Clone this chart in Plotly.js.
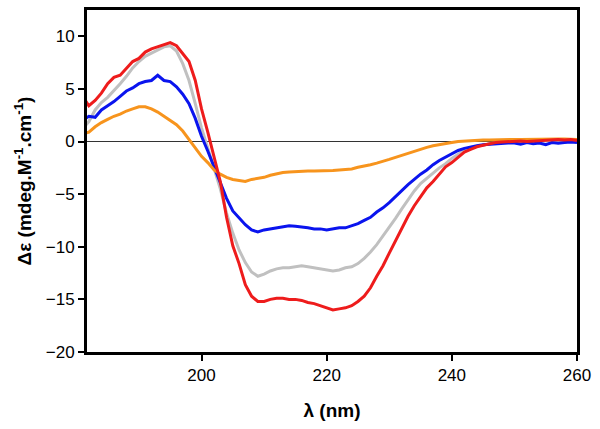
<!DOCTYPE html>
<html><head><meta charset="utf-8">
<script src="https://cdn.plot.ly/plotly-3.0.1.min.js"></script>
<style>html,body{margin:0;padding:0;background:#fff}#chart{width:600px;height:429px}</style>
</head><body><div id="chart"></div>
<script>
const wavelength = [];
for (let w = 181; w <= 260; w++) wavelength.push(w);

const redSeries = [4.3,3.4,3.9,4.6,5.5,6.1,6.3,7.0,7.6,7.9,8.5,8.8,9.0,9.2,9.4,9.1,8.4,7.6,5.8,3.1,
 0.9,-1.5,-3.8,-7.2,-9.9,-11.6,-13.6,-14.7,-15.2,-15.2,-15.0,-14.9,-14.9,-15.0,-15.0,-15.1,-15.3,-15.4,-15.6,-15.8,
 -16.0,-15.9,-15.8,-15.6,-15.2,-14.7,-13.9,-12.8,-11.8,-10.6,-9.4,-8.3,-7.1,-6.1,-5.2,-4.4,-3.8,-3.1,-2.4,-2.0,
 -1.5,-1.0,-0.75,-0.5,-0.35,-0.2,-0.1,-0.05,0.0,0.0,0.05,0.0,0.05,0.1,0.1,0.15,0.2,0.15,0.2,0.1];

const graySeries = [1.2,1.9,3.0,3.7,4.2,4.8,5.5,6.2,7.0,7.6,8.1,8.4,8.7,9.0,9.1,8.6,7.4,5.8,3.6,1.3,
 -0.6,-2.6,-4.5,-6.8,-8.7,-10.3,-11.5,-12.4,-12.8,-12.6,-12.3,-12.1,-12.0,-12.0,-11.9,-11.8,-11.9,-12.0,-12.1,-12.2,
 -12.3,-12.2,-12.0,-11.9,-11.6,-11.1,-10.5,-9.8,-9.0,-8.2,-7.3,-6.4,-5.5,-4.7,-4.0,-3.5,-3.0,-2.5,-2.1,-1.6,
 -1.2,-0.85,-0.6,-0.45,-0.3,-0.2,-0.12,-0.08,-0.05,-0.05,0.0,0.0,0.0,0.05,0.05,0.1,0.1,0.1,0.1,0.05];

const blueSeries = [2.0,2.4,2.3,3.0,3.4,3.8,4.3,4.8,5.1,5.5,5.7,5.8,6.3,5.8,5.7,5.2,4.5,3.6,2.2,0.5,
 -0.9,-2.4,-3.9,-5.4,-6.6,-7.3,-7.9,-8.4,-8.6,-8.4,-8.3,-8.2,-8.1,-8.0,-8.05,-8.1,-8.2,-8.3,-8.3,-8.4,
 -8.3,-8.2,-8.2,-8.0,-7.8,-7.5,-7.2,-6.7,-6.3,-5.8,-5.2,-4.6,-4.1,-3.6,-3.1,-2.7,-2.2,-1.8,-1.5,-1.2,
 -0.85,-0.65,-0.5,-0.4,-0.3,-0.25,-0.2,-0.2,-0.15,-0.15,-0.25,-0.1,-0.2,-0.15,-0.3,-0.1,-0.15,-0.1,-0.05,-0.1];

const orangeSeries = [0.7,0.9,1.4,1.8,2.1,2.4,2.6,2.9,3.1,3.3,3.3,3.1,2.8,2.4,2.0,1.6,1.0,0.2,-0.6,-1.4,
 -2.0,-2.7,-3.1,-3.4,-3.6,-3.7,-3.8,-3.6,-3.5,-3.4,-3.2,-3.05,-2.95,-2.9,-2.85,-2.85,-2.8,-2.8,-2.8,-2.8,
 -2.75,-2.7,-2.65,-2.6,-2.45,-2.35,-2.2,-2.05,-1.9,-1.7,-1.5,-1.3,-1.1,-0.9,-0.75,-0.55,-0.4,-0.28,-0.18,-0.1,
 0.0,0.05,0.1,0.12,0.15,0.15,0.18,0.2,0.2,0.2,0.2,0.22,0.22,0.25,0.25,0.25,0.25,0.25,0.22,0.2];

const xTickVals = [200, 220, 240, 260];
const yTickVals = [-20, -15, -10, -5, 0, 5, 10];

const mk = (y, color) => ({x: wavelength, y: y, type: 'scatter', mode: 'lines',
  line: {color: color, width: 3}, hoverinfo: 'skip', showlegend: false});

const data = [
  mk(graySeries, '#c0c0c0'),
  mk(blueSeries, '#0a14ee'),
  mk(orangeSeries, '#f7941d'),
  mk(redSeries, '#ee1c1c')
];

const font = {family: 'Liberation Sans, Arial, sans-serif', size: 17, color: '#000'};
const titleFont = {family: 'Liberation Sans, Arial, sans-serif', size: 19, color: '#000'};
const layout = {
  width: 600, height: 429,
  margin: {l: 87, r: 23, t: 10, b: 77},
  paper_bgcolor: '#fff', plot_bgcolor: '#fff',
  font: font,
  showlegend: false,
  xaxis: {
    range: [181.7, 260], tickvals: xTickVals, ticks: 'outside', ticklen: 6, tickwidth: 2, tickcolor: '#000',
    showline: true, linewidth: 3, linecolor: '#000', mirror: true, showgrid: false, zeroline: false,
    tickfont: font,
    title: {text: '<b>λ (nm)</b>', font: titleFont, standoff: 20}
  },
  yaxis: {
    range: [-20, 12.5], tickvals: yTickVals, ticks: 'outside', ticklen: 6, tickwidth: 2, tickcolor: '#000',
    showline: true, linewidth: 3, linecolor: '#000', mirror: true, showgrid: false,
    zeroline: true, zerolinecolor: '#333', zerolinewidth: 1,
    tickfont: font,
    title: {text: '<b>Δε (mdeg.M<sup>-1</sup>.cm<sup>-1</sup>)</b>', font: titleFont, standoff: 10}
  }
};
Plotly.newPlot('chart', data, layout, {staticPlot: true, displayModeBar: false});
</script></body></html>
